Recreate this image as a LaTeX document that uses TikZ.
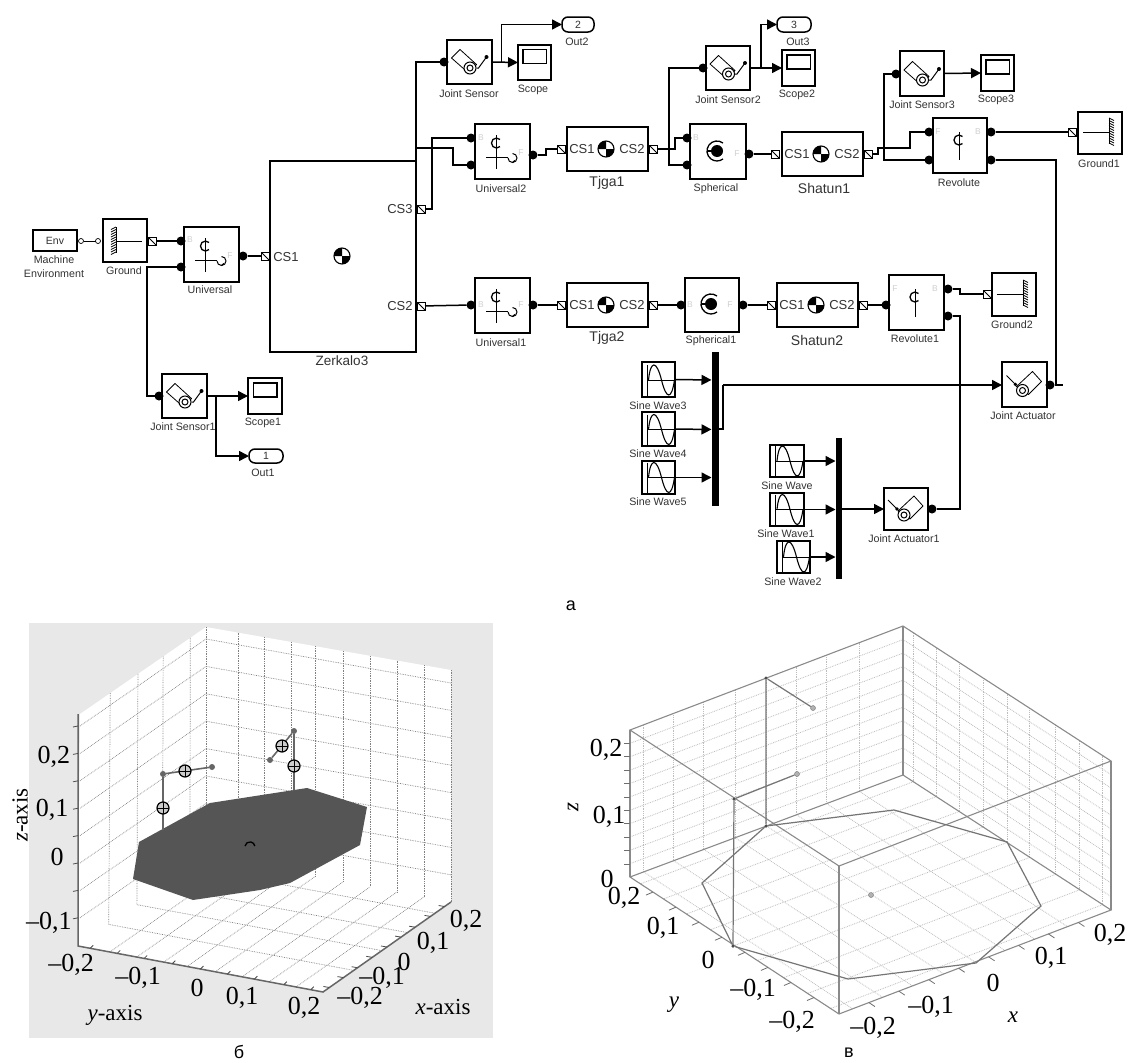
\documentclass[tikz,border=0pt]{standalone}
\usepackage{fontspec}
\setmainfont{Liberation Sans}
\newfontfamily\serifaxis{Liberation Serif}
\usetikzlibrary{arrows.meta,calc}
\definecolor{txtgray}{HTML}{333333}
\definecolor{portgray}{HTML}{D0D0D0}
\definecolor{panelgray}{HTML}{E8E8E8}
\definecolor{platedark}{HTML}{555555}
\definecolor{gridb}{HTML}{808080}
\definecolor{gridv}{HTML}{BDBDBD}
\definecolor{framev}{HTML}{8A8A8A}
\tikzset{
  blk/.style={draw=black,line width=1.5pt,fill=white,inner sep=0pt,outer sep=0pt},
  lbl/.style={inner sep=0pt,font=\fontsize{10.7}{14}\selectfont,text=txtgray,align=center},
  cstxt/.style={inner sep=0pt,font=\fontsize{13}{14}\selectfont,text=txtgray},
  bigname/.style={inner sep=0pt,font=\fontsize{14}{15}\selectfont,text=txtgray},
  portfaint/.style={inner sep=0pt,font=\fontsize{8.5}{9}\selectfont,text=portgray},
  wire/.style={draw=black,line width=1.5pt,line join=miter},
  sig/.style={wire,-{Triangle[length=10pt,width=10pt]}},
  dotport/.style={circle,fill=black,inner sep=0pt,minimum size=9pt,outer sep=0pt},
  sqport/.style={draw=black,fill=white,line width=1pt,inner sep=0pt,minimum size=8pt,outer sep=0pt,
    path picture={\draw[line width=.8pt] (path picture bounding box.north west) -- (path picture bounding box.south east);}},
  ringport/.style={circle,draw=black,fill=white,line width=.7pt,inner sep=0pt,minimum size=5pt,outer sep=0pt},
  icon/.style={line width=1pt,draw=black},
  axlab/.style={inner sep=0pt,font=\serifaxis\fontsize{26}{26}\selectfont,text=black},
  axname/.style={inner sep=0pt,font=\serifaxis\fontsize{23}{23}\selectfont,text=black},
  capt/.style={inner sep=0pt,font=\fontsize{18}{18}\selectfont,text=black},
  gridB/.style={draw=gridb,line width=.7pt,densely dotted},
  gridV/.style={draw=gridv,line width=.8pt,densely dotted},
  frameV/.style={draw=framev,line width=1.1pt},
  mech/.style={draw=framev!85!black,line width=1.2pt},
  mechB/.style={draw=gray!80!black,line width=1.6pt},
  joint/.style={circle,fill=gray!80!black,inner sep=0pt,minimum size=6pt},
  jointV/.style={circle,draw=gray!90!black,fill=gray!60,inner sep=0pt,minimum size=5pt},
  jointK/.style={circle,fill=gray!60!black,inner sep=0pt,minimum size=3.5pt},
  bodyjoint/.style={circle,draw=black,line width=1.2pt,fill=white!60!gray,inner sep=0pt,minimum size=12pt,
    path picture={\draw[black,line width=1pt] (path picture bounding box.north) -- (path picture bounding box.south)
       (path picture bounding box.west) -- (path picture bounding box.east);}}
}
\newcommand{\iconsensor}[2]{\begin{scope}[shift={(#1,#2)},icon]
  \draw[line join=round,line width=.8pt] (-18,-4) -- (-9.5,-12.5) -- (7,2.5) -- (-1,11) -- cycle;
  \draw[fill=white] (0.5,6) circle[radius=6]; \draw (0.5,6) circle[radius=3];
  \draw (7,6) -- (9,6) -- (17,-5); \fill (17,-5) circle[radius=2];
\end{scope}}
\newcommand{\iconactuator}[2]{\begin{scope}[shift={(#1,#2)},icon]
  \draw (-18,-9) -- (-9,0); \fill (-9,0) circle[radius=1.8];
  \draw[line join=round,line width=.8pt] (8,-13) -- (17,-3) -- (4,10) -- (-8,2) -- cycle;
  \draw[fill=white] (-2,6) circle[radius=6]; \draw (-2,6) circle[radius=3];
\end{scope}}
\newcommand{\iconcee}[2]{\draw[line width=1.3pt] ($(#1,#2)+(3.5,-3.5)$) arc[start angle=-45,end angle=-315,radius=5];}
\newcommand{\iconuniversal}[2]{\begin{scope}[shift={(#1,#2)},icon]
  \draw (-5.5,-16) -- (-5.5,18); \iconcee{-5.5}{-8}
  \draw (-16,6) -- (6,6);
  \draw (6,7) arc[start angle=180,end angle=-90,radius=4.5];
  \draw[line width=1.2pt] (10.5,11.5) -- (13,9.5);
\end{scope}}
\newcommand{\iconrevolute}[2]{\begin{scope}[shift={(#1,#2)},icon]
  \draw (-1,-14) -- (-1,14); \iconcee{-1}{-6}
\end{scope}}
\newcommand{\iconspherical}[2]{\begin{scope}[shift={(#1,#2)},icon]
  \fill (-1,-2) circle[radius=6]; \draw[line width=1.3pt] (-11,-2) -- (-1,-2);
  \draw[line width=1.3pt] (5,-10) arc[start angle=-53,end angle=-307,radius=10];
\end{scope}}
\newcommand{\iconground}[3]{\begin{scope}[shift={(#1,#2)},xscale=#3,icon]
  \draw (-9,0) -- (17,0); \draw (-9,-14) -- (-9,12);
  \foreach \q in {-14,-11.5,...,12}{\draw[line width=.8pt] (-14,\q+2.5) -- (-9,\q);}
\end{scope}}
\newcommand{\iconscope}[2]{\draw[line width=1.2pt] ($(#1,#2)+(-11.5,-13)$) rectangle ($(#1,#2)+(12,1)$);}
\newcommand{\iconsine}[2]{\begin{scope}[shift={(#1,#2)},icon]
  \draw (-11.5,-15) -- (-11.5,16); \draw (-11.5,0) -- (16,0);
  \draw[line width=1.1pt] (-10,0) .. controls (-8,-20) and (-2,-20) .. (3,0) .. controls (8,20) and (13,20) .. (16,0);
\end{scope}}
\newcommand{\iconcom}[2]{\begin{scope}[shift={(#1,#2)}]
  \fill[white] (0,0) circle[radius=8];
  \fill (0,0) -- (-8,0) arc[start angle=180,end angle=270,radius=8] -- cycle;
  \fill (0,0) -- (8,0) arc[start angle=0,end angle=90,radius=8] -- cycle;
  \draw[line width=1.1pt] (0,0) circle[radius=8];
\end{scope}}
\begin{document}
\begin{tikzpicture}[x=1pt,y=-1pt]
\useasboundingbox (0,0) rectangle (1128,1063);
\fill[white] (0,0) rectangle (1128,1063);

% ===== blocks of panel a =====
\node[blk,minimum width=44pt,minimum height=21pt,font=\fontsize{10.5}{11}\selectfont,text=txtgray] (env) at (55,240.5) {Env};
\node[lbl] (envL) at (54,267) {Machine\\Environment};
\node[blk,minimum width=44pt,minimum height=43pt] (gnd) at (125,240.5) {}; \iconground{125}{241}{1}
\node[lbl] (gndL) at (124,271) {Ground};
\node[blk,minimum width=55pt,minimum height=55pt] (uni) at (211.5,254.5) {}; \iconuniversal{211}{254}
\node[lbl] (uniL) at (210,290) {Universal};
\node[blk,minimum width=146pt,minimum height=191pt] (zer) at (343,256.5) {}; \iconcom{342}{256}
\node[lbl,font=\fontsize{13.5}{14}\selectfont] (zerL) at (342,361) {Zerkalo3};
\node[cstxt] (zcs1) at (286,257) {CS1};
\node[cstxt] (zcs3) at (400,209) {CS3};
\node[cstxt] (zcs2) at (400,306) {CS2};
\node[blk,minimum width=45pt,minimum height=44pt] (js1) at (184.5,396) {}; \iconsensor{184.5}{396}
\node[lbl] (js1L) at (183,427) {Joint Sensor1};
\node[blk,minimum width=34pt,minimum height=36pt] (sc1) at (265,396) {}; \iconscope{265}{396}
\node[lbl] (sc1L) at (263,423) {Scope1};
\node[blk,rounded corners=6pt,minimum width=34pt,minimum height=14pt,font=\fontsize{10.5}{11}\selectfont,text=txtgray] (o1) at (266,456) {1};
\node[lbl] (o1L) at (263,473) {Out1};

\node[blk,minimum width=45pt,minimum height=44pt] (js) at (469.5,62) {}; \iconsensor{469.5}{62}
\node[lbl] (jsL) at (469,94) {Joint Sensor};
\node[blk,minimum width=33pt,minimum height=35pt] (sc) at (534.5,62.5) {}; \iconscope{534.5}{62.5}
\node[lbl] (scL) at (533,90) {Scope};
\node[blk,rounded corners=6pt,minimum width=32pt,minimum height=15pt,font=\fontsize{10.5}{11}\selectfont,text=txtgray] (o2) at (578,24.5) {2};
\node[lbl] (o2L) at (577,42) {Out2};
\node[blk,minimum width=55pt,minimum height=55pt] (uni2) at (502.5,151.5) {}; \iconuniversal{502}{151}
\node[lbl] (uni2L) at (501,189) {Universal2};
\node[blk,minimum width=81pt,minimum height=44pt] (tj1) at (607.5,149) {}; \iconcom{606}{149}
\node[cstxt] (tj1a) at (582,149.5) {CS1}; \node[cstxt] (tj1b) at (632,149.5) {CS2};
\node[bigname] (tj1L) at (607,183) {Tjga1};
\node[blk,minimum width=56pt,minimum height=55pt] (sph) at (718,151.5) {}; \iconspherical{718}{153}
\node[lbl] (sphL) at (716,189) {Spherical};
\node[blk,minimum width=44pt,minimum height=44pt] (js2) at (728,68) {}; \iconsensor{728}{68}
\node[lbl] (js2L) at (728,100) {Joint Sensor2};
\node[blk,minimum width=33pt,minimum height=36pt] (sc2) at (798.5,68) {}; \iconscope{798.5}{68}
\node[lbl] (sc2L) at (797,95) {Scope2};
\node[blk,rounded corners=6pt,minimum width=34pt,minimum height=15pt,font=\fontsize{10.5}{11}\selectfont,text=txtgray] (o3) at (794,24.5) {3};
\node[lbl] (o3L) at (798,42) {Out3};
\node[blk,minimum width=81pt,minimum height=44pt] (sh1) at (822.5,154) {}; \iconcom{821}{154}
\node[cstxt] (sh1a) at (797,154.5) {CS1}; \node[cstxt] (sh1b) at (847,154.5) {CS2};
\node[bigname] (sh1L) at (824,188) {Shatun1};
\node[blk,minimum width=54pt,minimum height=55pt] (rev) at (960,145.5) {}; \iconrevolute{960}{146}
\node[lbl] (revL) at (959,183) {Revolute};
\node[blk,minimum width=44pt,minimum height=45pt] (js3) at (922,73.5) {}; \iconsensor{922}{74}
\node[lbl] (js3L) at (922,105) {Joint Sensor3};
\node[blk,minimum width=33pt,minimum height=36pt] (sc3) at (997.5,73) {}; \iconscope{997.5}{73}
\node[lbl] (sc3L) at (996,100) {Scope3};
\node[blk,minimum width=44pt,minimum height=42pt] (g1) at (1100,133) {}; \iconground{1100}{132}{-1}
\node[lbl] (g1L) at (1099,164) {Ground1};

\node[blk,minimum width=55pt,minimum height=55pt] (uni1) at (502.5,305.5) {}; \iconuniversal{502}{305}
\node[lbl] (uni1L) at (501,343) {Universal1};
\node[blk,minimum width=81pt,minimum height=44pt] (tj2) at (607.5,305) {}; \iconcom{606}{305}
\node[cstxt] (tj2a) at (582,305.5) {CS1}; \node[cstxt] (tj2b) at (632,305.5) {CS2};
\node[bigname] (tj2L) at (607,338) {Tjga2};
\node[blk,minimum width=54pt,minimum height=54pt] (sph1) at (712,305) {}; \iconspherical{712}{306}
\node[lbl] (sph1L) at (711,341) {Spherical1};
\node[blk,minimum width=81pt,minimum height=44pt] (sh2) at (817.5,305) {}; \iconcom{816}{305}
\node[cstxt] (sh2a) at (792,305.5) {CS1}; \node[cstxt] (sh2b) at (842,305.5) {CS2};
\node[bigname] (sh2L) at (817,340) {Shatun2};
\node[blk,minimum width=55pt,minimum height=55pt] (rev1) at (916.5,302.5) {}; \iconrevolute{916}{303}
\node[lbl] (rev1L) at (915,339) {Revolute1};
\node[blk,minimum width=44pt,minimum height=43pt] (g2) at (1014,294.5) {}; \iconground{1014}{294}{-1}
\node[lbl] (g2L) at (1012,325) {Ground2};
\node[blk,minimum width=45pt,minimum height=45pt] (ja) at (1024.5,384.5) {}; \iconactuator{1024.5}{384.5}
\node[lbl] (jaL) at (1023,416) {Joint Actuator};
\node[blk,minimum width=44pt,minimum height=42pt] (ja1) at (906,509) {}; \iconactuator{906}{509}
\node[lbl] (ja1L) at (904,539) {Joint Actuator1};

% sine sources and buses
\node[blk,minimum width=33pt,minimum height=35pt] (sw3) at (658.5,379.5) {}; \iconsine{658.5}{380}
\node[lbl] (sw3L) at (658,406) {Sine Wave3};
\node[blk,minimum width=33pt,minimum height=34pt] (sw4) at (658.5,429) {}; \iconsine{658.5}{429.5}
\node[lbl] (sw4L) at (658,454) {Sine Wave4};
\node[blk,minimum width=33pt,minimum height=33pt] (sw5) at (658.5,477.5) {}; \iconsine{658.5}{477.5}
\node[lbl] (sw5L) at (658,502) {Sine Wave5};
\node[blk,minimum width=34pt,minimum height=32pt] (sw) at (787,461) {}; \iconsine{787}{461}
\node[lbl] (swL) at (787,486) {Sine Wave};
\node[blk,minimum width=34pt,minimum height=33pt] (sw1) at (787,509.5) {}; \iconsine{787}{509.5}
\node[lbl] (sw1L) at (786,534) {Sine Wave1};
\node[blk,minimum width=33pt,minimum height=32pt] (sw2) at (793.5,557) {}; \iconsine{793.5}{557}
\node[lbl] (sw2L) at (793,582) {Sine Wave2};
\node[fill=black,inner sep=0pt,minimum width=7pt,minimum height=154pt] (bus1) at (715.5,429) {};
\node[fill=black,inner sep=0pt,minimum width=6.5pt,minimum height=141pt] (bus2) at (839,508.5) {};

% faint B / F port letters
\foreach \px/\py/\t in {190/240/B,230/256/F,481/138/B,521/153/F,696/138/B,737/154/F,481/305/B,521/305/F,690/305/B,730/305/F,938/132/F,978/132/B,895/289/F,935/289/B}
  \node[portfaint] at (\px,\py) {\t};

% ===== port nodes =====
\node[dotport] (uniB) at (181,241) {}; \node[dotport] (uniC) at (181,267) {}; \node[dotport] (uniF) at (243,256) {};
\node[dotport] (js1I) at (159,396) {};
\node[dotport] (jsI) at (444,62) {};
\node[dotport] (u2B) at (471,138) {}; \node[dotport] (u2C) at (471,165) {}; \node[dotport] (u2F) at (533,155) {};
\node[dotport] (spB) at (687,138) {}; \node[dotport] (spC) at (687,165) {}; \node[dotport] (spF) at (749,154) {};
\node[dotport] (js2I) at (703,68) {};
\node[dotport] (js3I) at (896,74) {};
\node[dotport] (revA) at (929,132) {}; \node[dotport] (revC) at (929,160) {};
\node[dotport] (revB) at (991,132) {}; \node[dotport] (revD) at (991,160) {};
\node[dotport] (u1B) at (471,305) {}; \node[dotport] (u1F) at (533,305) {};
\node[dotport] (s1B) at (681,305) {}; \node[dotport] (s1F) at (743,305) {};
\node[dotport] (r1F) at (886,305) {};
\node[dotport] (r1B) at (948,289) {}; \node[dotport] (r1D) at (948,316) {};
\node[dotport] (jaO) at (1050,385) {};
\node[dotport] (ja1O) at (932,509) {};
\node[sqport] (gndP) at (152,241) {};
\node[sqport] (zP1) at (265,256) {}; \node[sqport] (zP3) at (421,209) {}; \node[sqport] (zP2) at (421,306) {};
\node[sqport] (t1a) at (561,149) {}; \node[sqport] (t1b) at (653,149) {};
\node[sqport] (h1a) at (775,154) {}; \node[sqport] (h1b) at (868,154) {};
\node[sqport] (t2a) at (561,305) {}; \node[sqport] (t2b) at (653,305) {};
\node[sqport] (h2a) at (771,305) {}; \node[sqport] (h2b) at (863,305) {};
\node[sqport] (g1P) at (1072,132) {};
\node[sqport] (g2P) at (987,294) {};
\node[ringport] (envR) at (81,241) {}; \node[ringport] (gndR) at (98,241) {};

% ===== wires =====
\draw[wire,line width=1pt] (envR) -- (gndR);
\draw[wire] (gndP) -- (uniB);
\draw[wire] (uniC) -- (147,267) -- (147,396) -- (js1I);
\draw[wire] (uniF) -- (zP1);
\draw[sig] (js1.east) -- (sc1.west);
\draw[sig] (216,396) -- (216,456) -- (o1.west);
\draw[wire] (zP3) -- (432,209) -- (432,138) -- (u2B);
\draw[wire] (zer.north east) -- (416,62) -- (jsI);
\draw[wire] (416,148) -- (453,148) -- (453,165) -- (u2C);
\draw[wire] (zP2) -- (u1B);
\draw[sig] (js.east) -- (sc.west);
\draw[sig] (501.5,62) -- (501.5,24.5) -- (o2.west);
\draw[wire] (u2F) -- (546,155) -- (546,149) -- (t1a);
\draw[wire] (t1b) -- (675,149) -- (675,138) -- (spB);
\draw[wire] (js2I) -- (669,68) -- (669,165) -- (spC);
\draw[wire] (spF) -- (h1a);
\draw[sig] (js2.east) -- (sc2.west);
\draw[sig] (761,68) -- (761,24.5) -- (o3.west);
\draw[wire] (h1b) -- (878,154) -- (878,148) -- (910,148) -- (910,132) -- (revA);
\draw[wire] (js3I) -- (884,74) -- (884,160) -- (revC);
\draw[sig] (js3.east) -- (sc3.west);
\draw[wire] (revB) -- (g1P);
\draw[wire] (revD) -- (1056,160) -- (1056,385) -- (jaO);
\draw[wire] (1056,385) -- (1063,385);
\draw[wire] (u1F) -- (t2a);
\draw[wire] (t2b) -- (s1B);
\draw[wire] (s1F) -- (h2a);
\draw[wire] (h2b) -- (r1F);
\draw[wire] (r1B) -- (960,289) -- (960,294) -- (g2P);
\draw[wire] (r1D) -- (960,316) -- (960,509) -- (ja1O);
\draw[sig] (sw3.east) -- (711.5,380);
\draw[sig] (sw4.east) -- (711.5,429.5);
\draw[sig] (sw5.east) -- (711.5,477.5);
\draw[sig] (sw.east) -- (835.5,461);
\draw[sig] (sw1.east) -- (835.5,509.5);
\draw[sig] (sw2.east) -- (835.5,557);
\draw[wire] (bus1.east |- 0,429) -- (723,429) -- (723,385);
\draw[sig] (723,385) -- (ja.west |- 0,385);
\draw[sig] (bus2.east |- 0,509) -- (ja1.west);
\node[capt] (capA) at (571,606) {а};

% ===== panel b =====
\fill[panelgray] (29,623) rectangle (493,1038);
\coordinate (bA) at (78,946); \coordinate (bB) at (323,992); \coordinate (bC) at (451,902); \coordinate (bD) at (206,856);
\coordinate (bE) at (80,714); \coordinate (bF) at (206,627); \coordinate (bG) at (451,670);
\fill[white] (bE) -- (bF) -- (bG) -- (bC) -- (bB) -- (bA) -- cycle;
\foreach \t in {.24,.46,.66,.875} \draw[gridB] ($(bE)!\t!(bF)$) -- ($(bA)!\t!(bD)$);
\foreach \t in {0,.13,.24,.35,.445,.56,.67,.78,.89,1} \draw[gridB] ($(bF)!\t!(bG)$) -- ($(bD)!\t!(bC)$);
\foreach \k in {0,...,7}{
  \draw[gridB] (80,726+27.4*\k) -- (206,639+27.4*\k);
  \draw[gridB] (206,639+27.4*\k) -- (451,683+27.4*\k);}
\foreach \t in {.24,.46,.66,.875} \draw[gridB] ($(bA)!\t!(bD)$) -- ($(bB)!\t!(bC)$);
\foreach \t in {.13,.24,.35,.445,.56,.67,.78,.89} \draw[gridB] ($(bA)!\t!(bB)$) -- ($(bD)!\t!(bC)$);
\draw[gray!80!black,line width=1.5pt] (78,714) -- (bA) -- (bB) -- (bC);
\foreach \k in {0,...,7} \draw[gray!60!black,line width=.8pt] (73,727+27.4*\k) -- (78,726+27.4*\k);
\foreach \t in {.05,.16,.27,.385,.5,.61,.72,.84,.95}{
  \draw[gray!60!black,line width=.8pt] ($(bA)!\t!(bB)$) -- ++(3,-3);
  \draw[gray!60!black,line width=.8pt] ($(bB)!\t!(bC)$) -- ++(-6,-1);}
\fill[platedark] (139,842) -- (133,879) -- (193,900) -- (260,890) -- (290,883) -- (360,845) -- (367,807) -- (307,788) -- (210,803) -- cycle;
\draw[black,line width=1.3pt] (245,846) arc[start angle=-170,end angle=-10,radius=5];
\node[joint] (bj1) at (163,774) {};
\node[joint] (bj2) at (212,767) {};
\node[joint] (bj3) at (294,731) {};
\node[joint] (bj4) at (270,760) {};
\coordinate (bp1) at (163,830); \coordinate (bp2) at (294,790);
\draw[mechB] (bp1) -- (bj1) -- (bj2);
\draw[mechB] (bp2) -- (bj3) -- (bj4);
\node[bodyjoint] (bk1) at (163,808) {};
\node[bodyjoint] (bk2) at (185,771) {};
\node[bodyjoint] (bk3) at (294,766) {};
\node[bodyjoint] (bk4) at (282,746) {};
\node[axlab] at (54,757) {0,2};
\node[axlab] at (52,810) {0,1};
\node[axlab] at (57,857) {0};
\node[axlab] at (49,923) {–0,1};
\node[axname,rotate=90] at (20,815) {\textit{z}-axis};
\node[axlab] at (71,965) {–0,2};
\node[axlab] at (138,978) {–0,1};
\node[axlab] at (197,988) {0};
\node[axlab] at (242,998) {0,1};
\node[axlab] at (304,1008) {0,2};
\node[axname] at (115,1015) {\textit{y}-axis};
\node[axlab] at (360,998) {–0,2};
\node[axlab] at (382,978) {–0,1};
\node[axlab] at (404,962) {0};
\node[axlab] at (433,943) {0,1};
\node[axlab] at (466,921) {0,2};
\node[axname] at (443,1007) {\textit{x}-axis};
\node[capt] (capB) at (239,1052) {б};

% ===== panel c =====
\coordinate (cP) at (630,877); \coordinate (cQ) at (839,1014); \coordinate (cR) at (1111,910); \coordinate (cS) at (903,775);
\coordinate (cp) at (630,730); \coordinate (cq) at (839,866); \coordinate (cr) at (1111,761); \coordinate (cs) at (903,626);
\foreach \t in {.05,.16,.27,.385,.5,.61,.72,.84}{
  \draw[gridV] ($(cp)!\t!(cs)$) -- ($(cP)!\t!(cS)$);
  \draw[gridV] ($(cP)!\t!(cS)$) -- ($(cQ)!\t!(cR)$);}
\foreach \t in {.05,.16,.27,.385,.5,.61,.735,.85,.96}{
  \draw[gridV] ($(cs)!\t!(cr)$) -- ($(cS)!\t!(cR)$);
  \draw[gridV] ($(cS)!\t!(cR)$) -- ($(cP)!\t!(cQ)$);}
\foreach \k in {1,...,10}{
  \pgfmathsetmacro\f{\k/11}
  \draw[gridV] ($(cp)!\f!(cP)$) -- ($(cs)!\f!(cS)$);
  \draw[gridV] ($(cs)!\f!(cS)$) -- ($(cr)!\f!(cR)$);}
\draw[frameV] (cp) -- (cs) -- (cr) -- (cq) -- cycle;
\draw[frameV] (cP) -- (cQ) -- (cR) -- (cS) -- cycle;
\draw[frameV] (cp) -- (cP) (cs) -- (cS) (cr) -- (cR) (cq) -- (cQ);
\foreach \k in {1,...,10} \draw[framev!80!black,line width=.8pt] (624,730+13.4*\k) -- (630,730+13.4*\k);
\foreach \t in {.11,.22,.33,.44,.55,.66,.77,.88}{
  \draw[framev!80!black,line width=.8pt] ($(cP)!\t!(cQ)$) -- ++(-7,3);
  \draw[framev!80!black,line width=.8pt] ($(cQ)!\t!(cR)$) -- ++(6,4);}
\node[jointK] (cj1) at (734,799) {};
\node[jointV] (cj2) at (797,774) {};
\node[jointK] (cj3) at (766,678) {};
\node[jointV] (cj4) at (813,708) {};
\node[jointV] (cj5) at (871,895) {};
\node[jointK] (cb1) at (733,946) {};
\node[jointK] (cb2) at (766,826) {};
\draw[mech] (cb2) -- (702,883) -- (cb1) -- (848,979) -- (976,963) -- (1041,906) -- (1007,842) -- (894,810) -- (cb2);
\draw[mech] (cb1) -- (cj1) -- (cj2);
\draw[mech] (cb2) -- (cj3) -- (cj4);
\node[axlab] at (606,750) {0,2};
\node[axlab] at (609,817) {0,1};
\node[axlab] at (607,879) {0};
\node[axname,rotate=90] at (573,807) {\textit{z}};
\node[axlab] at (624,898) {0,2};
\node[axlab] at (663,928) {0,1};
\node[axlab] at (708,960) {0};
\node[axlab] at (753,990) {–0,1};
\node[axlab] at (792,1022) {–0,2};
\node[axname] at (674,1005) {\textit{y}};
\node[axlab] at (873,1028) {–0,2};
\node[axlab] at (931,1007) {–0,1};
\node[axlab] at (993,983) {0};
\node[axlab] at (1051,958) {0,1};
\node[axlab] at (1110,935) {0,2};
\node[axname] at (1013,1017) {\textit{x}};
\node[capt] (capC) at (849,1053) {в};
\end{tikzpicture}
\end{document}
